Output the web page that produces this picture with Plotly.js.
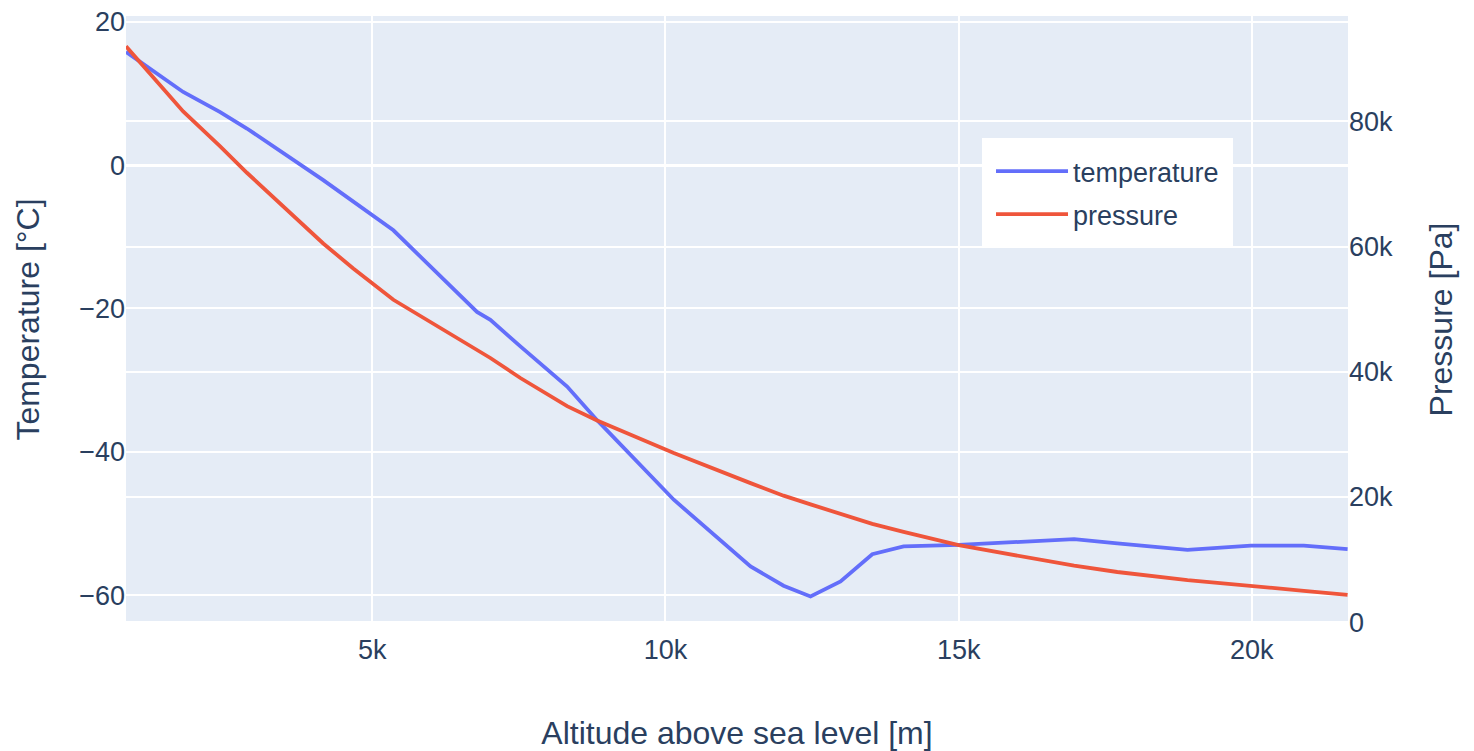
<!DOCTYPE html>
<html>
<head>
<meta charset="utf-8">
<script src="https://cdn.plot.ly/plotly-3.0.1.min.js"></script>
<style>html,body{margin:0;padding:0;background:#fff;}#chart{width:1474px;height:751px;}</style>
</head>
<body>
<div id="chart"></div>
<script>
// Altitude above sea level [m]
const altitude = [800, 1775, 2406, 2862, 4164, 4676, 5360, 6786, 7014, 7526, 8323, 8834,
  10142, 11451, 12014, 12474, 12986, 13527, 14061, 15000, 16969, 17706, 18903, 19983, 20887, 21633];
// Temperature [°C]
const temperature = [15.8, 10.2, 7.4, 5.1, -2.1, -5.1, -9.1, -20.5, -21.6, -25.3, -30.9, -35.6,
  -46.7, -56.0, -58.7, -60.2, -58.1, -54.3, -53.2, -53.0, -52.2, -52.8, -53.7, -53.1, -53.1, -53.6];
// Pressure [Pa]
const pressure = [92000, 81600, 76000, 71800, 60500, 56500, 51500, 43600, 42200, 39000, 34500, 32200,
  27000, 22200, 20200, 18800, 17300, 15700, 14400, 12300, 9000, 8000, 6700, 5700, 5000, 4350];

const traces = [
  {x: altitude, y: temperature, name: 'temperature', type: 'scatter', mode: 'lines',
   legendgroup: 'g1', line: {color: '#636efa', width: 3.8}, yaxis: 'y'},
  {x: altitude, y: pressure, name: 'pressure', type: 'scatter', mode: 'lines',
   legendgroup: 'g2', line: {color: '#EF553B', width: 3.8}, yaxis: 'y2'}
];

const FONT = '"Liberation Sans", Arial, sans-serif';

const layout = {
  width: 1474, height: 751,
  margin: {l: 126, r: 126, t: 16, b: 128, pad: 0},
  paper_bgcolor: '#ffffff',
  plot_bgcolor: '#E5ECF6',
  font: {family: FONT, size: 27, color: '#2a3f5f'},
  showlegend: true,
  legend: {x: 0.7005, y: 0.799, xanchor: 'left', yanchor: 'top', bgcolor: '#ffffff',
           bordercolor: '#ffffff', borderwidth: 9,
           font: {size: 27}, tracegroupgap: 5, itemwidth: 72},
  xaxis: {
    range: [800, 21640], dtick: 5000,
    title: {text: 'Altitude above sea level [m]', font: {size: 32}, standoff: 61},
    gridcolor: '#ffffff', gridwidth: 2, zeroline: false, showline: false,
    ticks: '', tickfont: {size: 27}, ticklabelstandoff: 8
  },
  yaxis: {
    range: [-63.9, 20.8], dtick: 20,
    title: {text: 'Temperature [°C]', font: {size: 32}, standoff: 29},
    gridcolor: '#ffffff', gridwidth: 2, zeroline: true, zerolinecolor: '#ffffff', zerolinewidth: 3,
    ticks: '', tickfont: {size: 27}
  },
  yaxis2: {
    range: [-150, 96850], dtick: 20000,
    overlaying: 'y', side: 'right',
    title: {text: 'Pressure [Pa]', font: {size: 32}, standoff: 37},
    gridcolor: '#ffffff', gridwidth: 2, zeroline: true, zerolinecolor: '#ffffff', zerolinewidth: 3,
    ticks: '', tickfont: {size: 27}
  }
};

Plotly.newPlot('chart', traces, layout, {displayModeBar: false, staticPlot: true});
</script>
</body>
</html>
